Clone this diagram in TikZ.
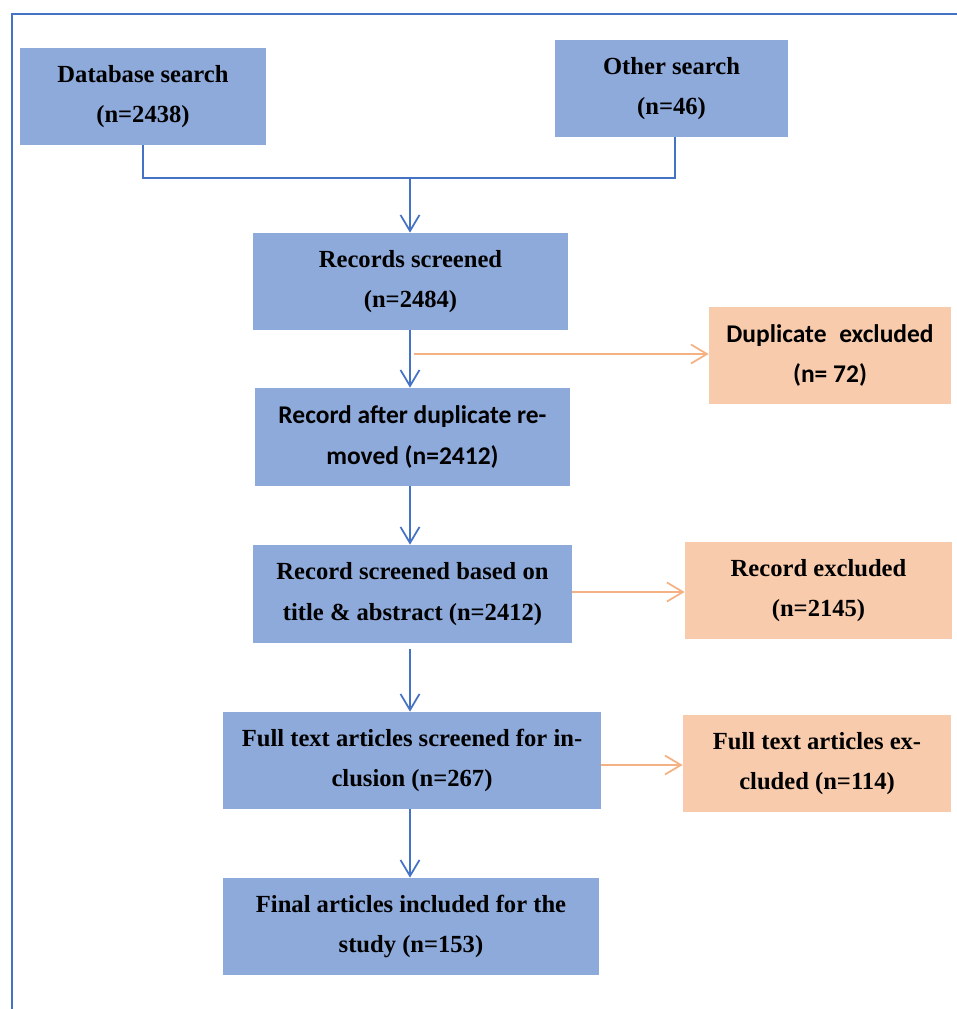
\documentclass[tikz,border=0pt]{standalone}
\usepackage{fontspec}
\setmainfont{Liberation Serif}
\newfontfamily\calibfont{Carlito}
\usepackage{xcolor}
\definecolor{boxBlue}{RGB}{142, 170, 219}
\definecolor{lineBlue}{RGB}{68, 114, 196}
\definecolor{boxOrange}{RGB}{248, 203, 173}
\definecolor{lineOrange}{RGB}{244, 177, 131}
\usepackage{tikz}
\usetikzlibrary{positioning,arrows.meta,calc}

\begin{document}
\begin{tikzpicture}[x=0.02cm, y=-0.02cm,
  blk/.style={rectangle, fill=boxBlue, minimum height=1.94cm, align=center,
              inner sep=0pt, font=\bfseries\fontsize{14}{23}\selectfont},
  exc/.style={blk, fill=boxOrange},
  sans/.style={font=\calibfont\bfseries\fontsize{14.5}{23}\selectfont},
  flow/.style={draw=lineBlue, line width=1pt},
  side/.style={draw=lineOrange, line width=1pt},
  >={Straight Barb[length=3.2mm, width=3.8mm]}
]
\useasboundingbox (0,0) rectangle (957,1009);
\draw[lineBlue, line width=1.2pt] (12,1009) -- (12,14) -- (957,14);

%% ── sources ──────────────────────────────────────────────────
\node[blk, minimum width=4.92cm] (db) at (143,96.5) {Database search\\(n=2438)};
\node[blk, minimum width=4.66cm] (os) at (671.5,88.5) {Other search\\(n=46)};
\coordinate (join) at (410,178);

%% ── main column ───────────────────────────────────────────────
\node[blk, minimum width=6.3cm]  (rs) at (410.5,281.5) {Records screened\\(n=2484)};
\node[blk, sans, minimum width=6.3cm, minimum height=1.96cm] (rd) at (412.5,437)
  {Record after duplicate re-\\moved (n=2412)};
\node[blk, minimum width=6.38cm, minimum height=1.96cm] (rt) at (412.5,594)
  {Record screened based on\\title \& abstract (n=2412)};
\node[blk, minimum width=7.56cm] (ft) at (412,760.5) {Full text articles screened for in-\\clusion (n=267)};
\node[blk, minimum width=7.52cm] (fa) at (411,926.5) {Final articles included for the\\study (n=153)};

%% ── exclusions ───────────────────────────────────────────────
\node[exc, sans, minimum width=4.84cm] (de) at (830,355.5) {Duplicate\enspace excluded\\(n= 72)};
\node[exc, minimum width=5.34cm] (re) at (818.5,590.5) {Record excluded\\(n=2145)};
\node[exc, minimum width=5.36cm] (fe) at (817,763.5) {Full text articles ex-\\cluded (n=114)};

%% ── connectors ───────────────────────────────────────────────
\draw[flow] (db.south) |- (join) -| (os.south -| 675,0);
\draw[flow, ->] (join) -- (rs.north -| join);
\draw[flow, ->] (rs.south -| join) -- (rd.north -| join);
\draw[flow, ->] (rd.south -| join) -- (rt.north -| join);
\draw[flow, ->] ($(rt.south -| join)+(0,6)$) -- (ft.north -| join);
\draw[flow, ->] (ft.south -| join) -- (fa.north -| join);
\draw[side, ->] (414,354) -- (de.west |- 0,354);
\draw[side, ->] (rt.east |- 0,592) -- (re.west |- 0,592);
\draw[side, ->] (ft.east |- 0,765) -- (fe.west |- 0,765);
\end{tikzpicture}
\end{document}
